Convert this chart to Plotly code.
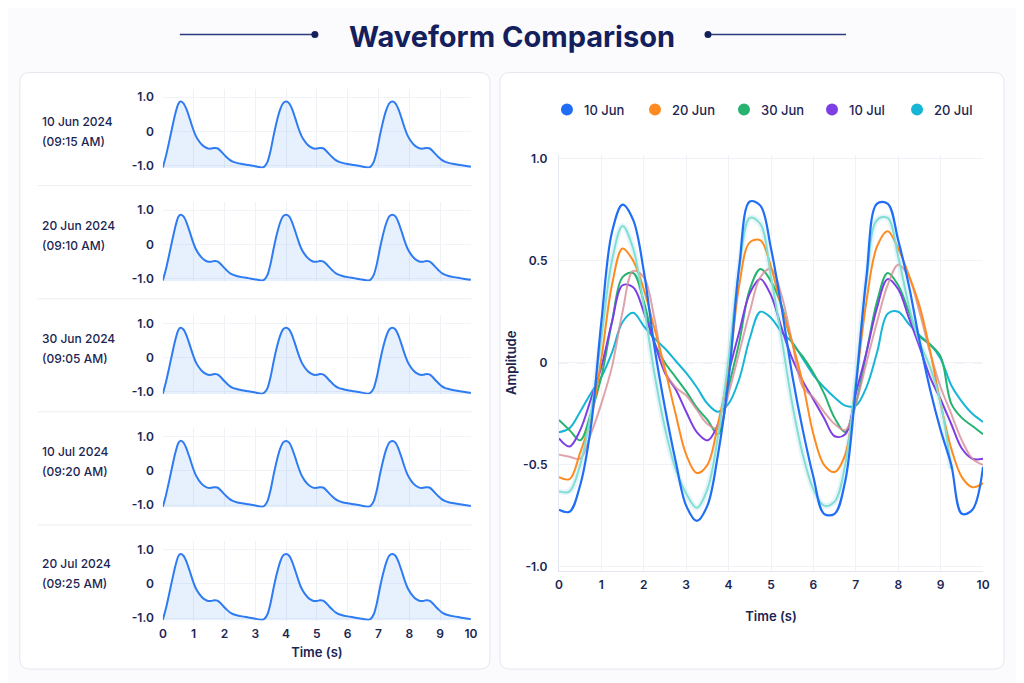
import plotly.graph_objects as go

# %% data
# left panel: one recording per row, same pulse shape each time
rec_dates = ["10 Jun 2024", "20 Jun 2024", "30 Jun 2024", "10 Jul 2024", "20 Jul 2024"]
rec_times = ["(09:15 AM)", "(09:10 AM)", "(09:05 AM)", "(09:20 AM)", "(09:25 AM)"]

pulse_t = [0, 0.1, 0.2, 0.3, 0.4, 0.5, 0.57, 0.67, 0.77, 0.87, 0.97, 1.07, 1.17, 1.27, 1.37, 1.47,
           1.57, 1.67, 1.77, 1.87, 1.97, 2.07, 2.17, 2.27, 2.37, 2.57, 2.77, 2.97, 3.23, 3.3, 3.4,
           3.5, 3.6, 3.7, 3.8, 3.9,
           4.0, 4.1, 4.2, 4.3, 4.4, 4.5, 4.6, 4.7, 4.8, 4.9, 5.0, 5.1, 5.2, 5.3, 5.4, 5.5, 5.6,
           5.7, 5.8, 6.0, 6.2, 6.4, 6.68, 6.75, 6.85, 6.95, 7.05, 7.15, 7.25, 7.35,
           7.45, 7.55, 7.65, 7.75, 7.85, 7.95, 8.05, 8.15, 8.25, 8.35, 8.45, 8.55, 8.65, 8.75,
           8.85, 8.95, 9.05, 9.15, 9.25, 9.45, 9.65, 9.85, 10.0]
pulse_y = [-1.05, -0.72, -0.32, 0.1, 0.5, 0.8, 0.87, 0.82, 0.64, 0.38, 0.1, -0.13, -0.28, -0.39,
           -0.46, -0.5, -0.5, -0.48, -0.49, -0.56, -0.66, -0.75, -0.83, -0.88, -0.91, -0.95,
           -0.98, -1.01, -1.05, -1.02, -0.88, -0.55, -0.1, 0.3, 0.62, 0.82,
           0.87, 0.82, 0.64, 0.38, 0.1, -0.13, -0.28, -0.39, -0.46, -0.5, -0.5, -0.48, -0.49,
           -0.56, -0.66, -0.75, -0.83, -0.88, -0.91, -0.95, -0.98, -1.01, -1.05, -1.02, -0.88,
           -0.55, -0.1, 0.3, 0.62, 0.82,
           0.87, 0.82, 0.64, 0.38, 0.1, -0.13, -0.28, -0.39, -0.46, -0.5, -0.5, -0.48, -0.49,
           -0.56, -0.66, -0.75, -0.83, -0.88, -0.91, -0.95, -0.98, -1.01, -1.03]
pulse_floor = [-1.07] * len(pulse_t)

# right panel: overlaid comparison
t = [0.0, 0.25, 0.5, 0.75, 1.0, 1.25, 1.5, 1.75, 2.0, 2.25, 2.5, 2.75, 3.0, 3.25, 3.5, 3.75,
     4.0, 4.25, 4.5, 4.75, 5.0, 5.25, 5.5, 5.75, 6.0, 6.25, 6.5, 6.75, 7.0, 7.25, 7.5, 7.75,
     8.0, 8.25, 8.5, 8.75, 9.0, 9.25, 9.5, 9.75, 10.0]
jun10 = [-0.72, -0.73, -0.6, -0.32, 0.2, 0.64, 0.775, 0.7, 0.45, 0.08, -0.22, -0.48, -0.7,
         -0.775, -0.7, -0.45, -0.08, 0.47, 0.79, 0.77, 0.56, 0.27, -0.06, -0.33, -0.56, -0.74,
         -0.74, -0.58, -0.12, 0.42, 0.78, 0.78, 0.6, 0.38, 0.11, -0.13, -0.33, -0.5, -0.74,
         -0.72, -0.51]
jun20 = [-0.56, -0.57, -0.44, -0.28, 0.02, 0.38, 0.56, 0.5, 0.36, 0.17, -0.03, -0.25, -0.45,
         -0.54, -0.5, -0.3, -0.04, 0.38, 0.59, 0.6, 0.47, 0.27, 0.1, -0.1, -0.35, -0.5, -0.535,
         -0.45, -0.1, 0.3, 0.57, 0.645, 0.56, 0.43, 0.28, 0.06, -0.2, -0.42, -0.56, -0.61, -0.59]
jun30 = [-0.28, -0.33, -0.38, -0.25, -0.07, 0.2, 0.42, 0.44, 0.3, 0.1, 0.0, -0.07, -0.14,
         -0.22, -0.28, -0.35, -0.12, 0.1, 0.36, 0.46, 0.4, 0.28, 0.1, 0.03, -0.05, -0.15, -0.27,
         -0.34, -0.2, 0.05, 0.3, 0.44, 0.38, 0.25, 0.13, 0.09, 0.03, -0.2, -0.27, -0.31, -0.35]
jul10 = [-0.37, -0.41, -0.33, -0.18, -0.02, 0.2, 0.38, 0.37, 0.25, 0.1, -0.05, -0.13, -0.24,
         -0.34, -0.38, -0.3, -0.05, 0.15, 0.34, 0.41, 0.33, 0.17, 0.02, -0.09, -0.18, -0.27,
         -0.36, -0.35, -0.15, 0.05, 0.27, 0.41, 0.36, 0.22, 0.08, -0.07, -0.18, -0.3, -0.42,
         -0.47, -0.47]
jul20 = [-0.34, -0.32, -0.24, -0.15, -0.07, 0.05, 0.2, 0.245, 0.18, 0.12, 0.07, 0.01, -0.05,
         -0.12, -0.2, -0.24, -0.2, -0.08, 0.12, 0.25, 0.22, 0.15, 0.1, 0.02, -0.06, -0.12, -0.17,
         -0.21, -0.21, -0.12, 0.05, 0.24, 0.25, 0.19, 0.135, 0.09, 0.02, -0.11, -0.19, -0.25,
         -0.29]
# faint extra traces visible in the picture (no legend entry)
ghost_a = [-0.63, -0.63, -0.5, -0.25, 0.12, 0.5, 0.67, 0.56, 0.28, -0.05, -0.32, -0.52, -0.64,
           -0.71, -0.62, -0.36, 0.02, 0.46, 0.71, 0.68, 0.42, 0.12, -0.2, -0.45, -0.62, -0.7,
           -0.68, -0.5, -0.08, 0.4, 0.7, 0.71, 0.52, 0.28, 0.1, -0.02, -0.2, -0.52, None, None,
           None]
ghost_b = [-0.45, -0.46, -0.47, -0.35, -0.2, -0.02, 0.25, 0.45, 0.42, 0.22, -0.04, -0.12, -0.16,
           -0.23, -0.3, -0.32, -0.15, 0.05, 0.25, 0.42, 0.46, 0.33, 0.1, -0.12, -0.17, -0.24,
           -0.3, -0.33, -0.2, 0.0, 0.2, 0.38, 0.48, 0.42, 0.25, 0.05, -0.12, -0.25, -0.38, -0.47,
           -0.5]

series_names = ["10 Jun", "20 Jun", "30 Jun", "10 Jul", "20 Jul"]
series_vals = [jun10, jun20, jun30, jul10, jul20]
series_cols = ["#1f6ef5", "#ff8b1e", "#26b36f", "#7e3ee6", "#17b6d6"]

# %% helpers (pixel -> paper), with a small correction for how the page gets photographed
W, H = 1024, 683
OX, SX = 12.2, 0.989
OY, SY = 11.5, 0.986
NAVY = "#1b2552"
FONT = "Inter"


def px(x):
    return ((x - OX) / SX) / W


def py(y):
    return 1 - ((y - OY) / SY) / H


def rounded_rect(x0, y0, x1, y1, r):
    a, b, c, d = px(x0), py(y0), px(x1), py(y1)
    rx, ry = r / W, r / H
    return (f"M {a+rx},{b} L {c-rx},{b} Q {c},{b} {c},{b-ry} L {c},{d+ry} Q {c},{d} {c-rx},{d} "
            f"L {a+rx},{d} Q {a},{d} {a},{d+ry} L {a},{b-ry} Q {a},{b} {a+rx},{b} Z")


fig = go.Figure()
layout = {}
annotations = []
shapes = []

# panels
for x0, x1 in [(20, 490), (500, 1004)]:
    shapes.append(dict(type="path", path=rounded_rect(x0, 72, x1, 668, 10), xref="paper",
                       yref="paper", fillcolor="white", line=dict(color="#e4e7ee", width=1),
                       layer="below"))

# %% left panel
label_y = [121, 225, 338, 451, 563]
for k in range(5):
    n = k + 1
    xa, ya = f"x{n}", f"y{n}"
    fig.add_trace(go.Scatter(x=pulse_t, y=pulse_floor, xaxis=xa, yaxis=ya, mode="lines",
                             line=dict(width=0), hoverinfo="skip", showlegend=False))
    fig.add_trace(go.Scatter(x=pulse_t, y=pulse_y, xaxis=xa, yaxis=ya, mode="lines",
                             line=dict(color="#2e7bf2", width=2, shape="spline", smoothing=0.6),
                             fill="tonexty", fillcolor="rgba(70,150,245,0.13)", showlegend=False))
    top = 88 + 113 * k
    layout[f"xaxis{n}"] = dict(domain=[px(163), px(471)], range=[0, 10], anchor=ya, dtick=1,
                               showticklabels=(k == 4), showgrid=True, gridcolor="#eef1f6",
                               zeroline=False, showline=False, ticks="", ticklabelstandoff=4,
                               tickfont=dict(family=FONT, size=12, color=NAVY, weight=600))
    layout[f"yaxis{n}"] = dict(domain=[py(top + 79.5), py(top)], range=[-1.07, 1.25],
                               anchor=xa, tickvals=[-1, 0, 1], ticktext=["-1.0", "0", "1.0"],
                               showgrid=True, gridcolor="#f1f3f8", zeroline=False,
                               ticks="", ticklabelstandoff=8,
                               tickfont=dict(family=FONT, size=12, color=NAVY, weight=600))
    annotations.append(dict(text=rec_dates[k], x=px(40), y=py(label_y[k]), xref="paper",
                            yref="paper", xanchor="left", yanchor="middle", showarrow=False,
                            font=dict(family=FONT, size=12, color=NAVY, weight=500)))
    annotations.append(dict(text=rec_times[k], x=px(40), y=py(label_y[k] + 20), xref="paper",
                            yref="paper", xanchor="left", yanchor="middle", showarrow=False,
                            font=dict(family=FONT, size=12, color=NAVY, weight=500)))
    if k < 4:
        sep = 185 + 113 * k
        shapes.append(dict(type="line", xref="paper", yref="paper", x0=px(38), x1=px(472),
                           y0=py(sep), y1=py(sep), line=dict(color="#eceef3", width=1)))

layout["xaxis5"]["title"] = dict(text="Time (s)", standoff=8,
                                 font=dict(family=FONT, size=13, color=NAVY, weight=600))

# %% right panel
fig.add_trace(go.Scatter(x=t, y=ghost_a, xaxis="x6", yaxis="y6", mode="lines",
                         line=dict(color="rgba(160,210,245,0.25)", width=6, shape="spline"),
                         hoverinfo="skip", showlegend=False))
for i in [4, 2, 3]:
    fig.add_trace(go.Scatter(x=t, y=series_vals[i], xaxis="x6", yaxis="y6", mode="lines",
                             line=dict(color=series_cols[i], width=2, shape="spline"),
                             name=series_names[i], showlegend=False))
fig.add_trace(go.Scatter(x=t, y=ghost_b, xaxis="x6", yaxis="y6", mode="lines",
                         line=dict(color="rgba(214,140,150,0.8)", width=2, shape="spline"),
                         showlegend=False))
fig.add_trace(go.Scatter(x=t, y=jun20, xaxis="x6", yaxis="y6", mode="lines", name="20 Jun",
                         line=dict(color=series_cols[1], width=2, shape="spline"),
                         showlegend=False))
fig.add_trace(go.Scatter(x=t, y=ghost_a, xaxis="x6", yaxis="y6", mode="lines",
                         line=dict(color="#7fe0d2", width=2, shape="spline"),
                         showlegend=False))
fig.add_trace(go.Scatter(x=t, y=jun10, xaxis="x6", yaxis="y6", mode="lines", name="10 Jun",
                         line=dict(color=series_cols[0], width=2.2, shape="spline"),
                         showlegend=False))

# legend drawn by hand: dot + label
legend_dot_x = [567, 655, 744, 832, 917]
for name, col, lx in zip(series_names, series_cols, legend_dot_x):
    shapes.append(dict(type="circle", xref="paper", yref="paper", x0=px(lx - 6), x1=px(lx + 6),
                       y0=py(109 + 6), y1=py(109 - 6), fillcolor=col, line=dict(width=0)))
    annotations.append(dict(text=name, x=px(lx + 15), y=py(109), xref="paper", yref="paper",
                            xanchor="left", yanchor="middle", showarrow=False,
                            font=dict(family=FONT, size=13, color=NAVY, weight=500)))

layout["xaxis6"] = dict(domain=[px(559), px(983)], range=[0, 10], anchor="y6", dtick=1,
                        showgrid=True, gridcolor="#f0f2f7", zeroline=False, showline=True,
                        linecolor="#e3e7f0", ticks="", ticklabelstandoff=3,
                        tickfont=dict(family=FONT, size=12, color=NAVY, weight=600),
                        title=dict(text="Time (s)", standoff=20,
                                   font=dict(family=FONT, size=13, color=NAVY, weight=600)))
layout["yaxis6"] = dict(domain=[py(570), py(154)], range=[-1.02, 1.02], anchor="x6",
                        tickvals=[-1, -0.5, 0, 0.5, 1],
                        ticktext=["-1.0", "-0.5", "0", "0.5", "1.0"],
                        showgrid=True, gridcolor="#f0f2f7", zeroline=False, showline=True,
                        linecolor="#e3e7f0", ticks="", ticklabelstandoff=8,
                        tickfont=dict(family=FONT, size=12, color=NAVY, weight=600),
                        title=dict(text="Amplitude", standoff=3,
                                   font=dict(family=FONT, size=13, color=NAVY, weight=600)))
shapes.append(dict(type="line", xref="x6", yref="y6", x0=0, x1=10, y0=0, y1=0,
                   line=dict(color="#c9d2e3", width=1, dash="dash"), layer="below"))

# %% title with ornaments
annotations.append(dict(text="<b>Waveform Comparison</b>", x=px(512), y=py(36), xref="paper",
                        yref="paper", xanchor="center", yanchor="middle", showarrow=False,
                        font=dict(family=FONT, size=29, color="#13205c")))
for x0, x1, dot in [(180, 315, 315), (708, 846, 708)]:
    shapes.append(dict(type="line", xref="paper", yref="paper", x0=px(x0), x1=px(x1),
                       y0=py(34), y1=py(34), line=dict(color="#2c3a80", width=1.5)))
    shapes.append(dict(type="circle", xref="paper", yref="paper", x0=px(dot - 3.5),
                       x1=px(dot + 3.5), y0=py(34 + 3.5), y1=py(34 - 3.5),
                       fillcolor="#13205c", line=dict(width=0)))

fig.update_layout(
    width=W, height=H,
    margin=dict(l=0, r=0, t=0, b=0),
    paper_bgcolor="#fbfbfd",
    plot_bgcolor="rgba(0,0,0,0)",
    font=dict(family=FONT, color=NAVY),
    showlegend=False,
    annotations=annotations,
    shapes=shapes,
    **layout
)

fig.write_html("out.html")
